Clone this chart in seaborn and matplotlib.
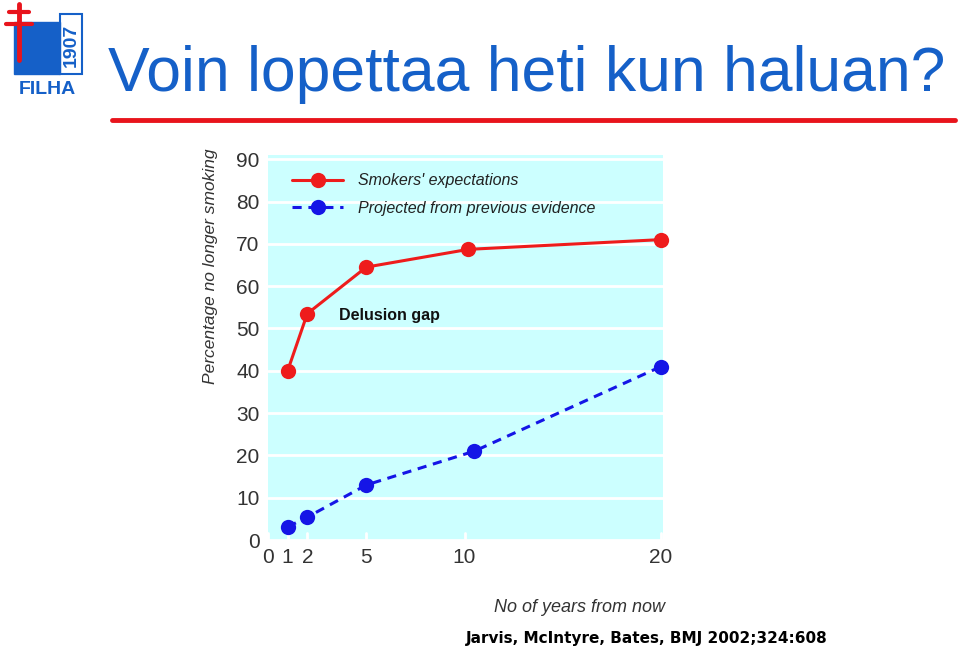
import matplotlib
matplotlib.use("Agg")
import matplotlib.pyplot as plt
import seaborn as sns
import pandas as pd

# ============ Data ============
years_expect = [1, 2, 5, 10.2, 20]
pct_expect = [40, 53.5, 64.5, 68.7, 71]
years_proj = [1, 2, 5, 10.5, 20]
pct_proj = [3.1, 5.4, 13, 21, 41]
x_ticks = [0, 1, 2, 5, 10, 20]
y_ticks = [0, 10, 20, 30, 40, 50, 60, 70, 80, 90]

sns.set_theme(style="white")
plt.rcParams['font.family'] = ['Liberation Sans', 'DejaVu Sans']

fig = plt.figure(figsize=(9.6, 6.5), dpi=100)
fig.patch.set_facecolor("white")
ax = fig.add_axes([268 / 960, 1 - 540 / 650, (663 - 268) / 960, (540 - 155) / 650])
ax.set_facecolor("#ccffff")

expect = pd.DataFrame({"years": years_expect, "pct": pct_expect})
proj = pd.DataFrame({"years": years_proj, "pct": pct_proj})

sns.lineplot(data=expect, x="years", y="pct", ax=ax, color="#ee1c1c", linewidth=2.2,
             marker="o", markersize=11, markeredgewidth=0, label="Smokers' expectations")
sns.lineplot(data=proj, x="years", y="pct", ax=ax, color="#1515e6", linewidth=2.2,
             marker="o", markersize=11, markeredgewidth=0, linestyle=(0, (3, 2.2)),
             label="Projected from previous evidence")
for line in ax.get_lines():
    line.set_clip_on(False)

ax.set_xlim(0, 20.1)
ax.set_ylim(0, 91)
ax.set_xticks(x_ticks)
ax.set_yticks(y_ticks)
ax.tick_params(axis="both", labelsize=15, colors="#333333", length=0, pad=6)
ax.grid(axis="both", color="white", linewidth=2)
ax.set_axisbelow(True)
for sp in ax.spines.values():
    sp.set_visible(False)
for line in ax.get_xgridlines():
    line.set_ydata([0, 0.018])
ax.set_xlabel("")
ax.set_ylabel("")

leg = ax.legend(loc="upper left", frameon=False, fontsize=11.5, handlelength=3.2,
                bbox_to_anchor=(0.025, 0.99), labelspacing=0.8, handletextpad=0.9)
for t in leg.get_texts():
    t.set_fontstyle("italic")
    t.set_color("#222222")

ax.text(3.6, 53, "Delusion gap", fontsize=11.5, fontweight="bold", color="#111111",
        va="center", ha="left")

fig.text(210 / 960, 1 - 266 / 650, "Percentage no longer smoking", rotation=90,
         fontsize=12.5, style="italic", color="#333333", ha="center", va="center")
fig.text(665 / 960, 1 - 607 / 650, "No of years from now", fontsize=13,
         style="italic", color="#333333", ha="right", va="center")

# title area
fig.text(108 / 960, 1 - 75 / 650, "Voin lopettaa heti kun haluan?", fontsize=45,
         color="#1560c8", ha="left", va="center")
fig.add_artist(plt.Line2D([112 / 960, 955 / 960], [1 - 120 / 650, 1 - 120 / 650],
                          color="#e8141c", linewidth=3.5))

# logo approximation
fig.add_artist(plt.Rectangle((14 / 960, 1 - 74 / 650), 46 / 960, 52 / 650, color="#1560c8"))
fig.add_artist(plt.Rectangle((60 / 960, 1 - 74 / 650), 22 / 960, 60 / 650, fill=False,
                             edgecolor="#1560c8", linewidth=1.5))
fig.add_artist(plt.Line2D([19 / 960, 19 / 960], [1 - 4 / 650, 1 - 60 / 650], color="#e8141c", linewidth=3.5))
fig.add_artist(plt.Line2D([9 / 960, 29 / 960], [1 - 12 / 650, 1 - 12 / 650], color="#e8141c", linewidth=3))
fig.add_artist(plt.Line2D([6 / 960, 32 / 960], [1 - 24 / 650, 1 - 24 / 650], color="#e8141c", linewidth=3))
fig.text(47 / 960, 1 - 89 / 650, "FILHA", fontsize=14, fontweight="bold", color="#1560c8",
         ha="center", va="center")
fig.text(71 / 960, 1 - 45 / 650, "1907", fontsize=14, fontweight="bold", color="#1560c8",
         ha="center", va="center", rotation=90)

fig.text(828 / 960, 1 - 638 / 650, "Jarvis, McIntyre, Bates, BMJ 2002;324:608", fontsize=11,
         fontweight="bold", color="black", ha="right", va="center", family="DejaVu Sans")

fig.savefig("out.png", dpi=100)
